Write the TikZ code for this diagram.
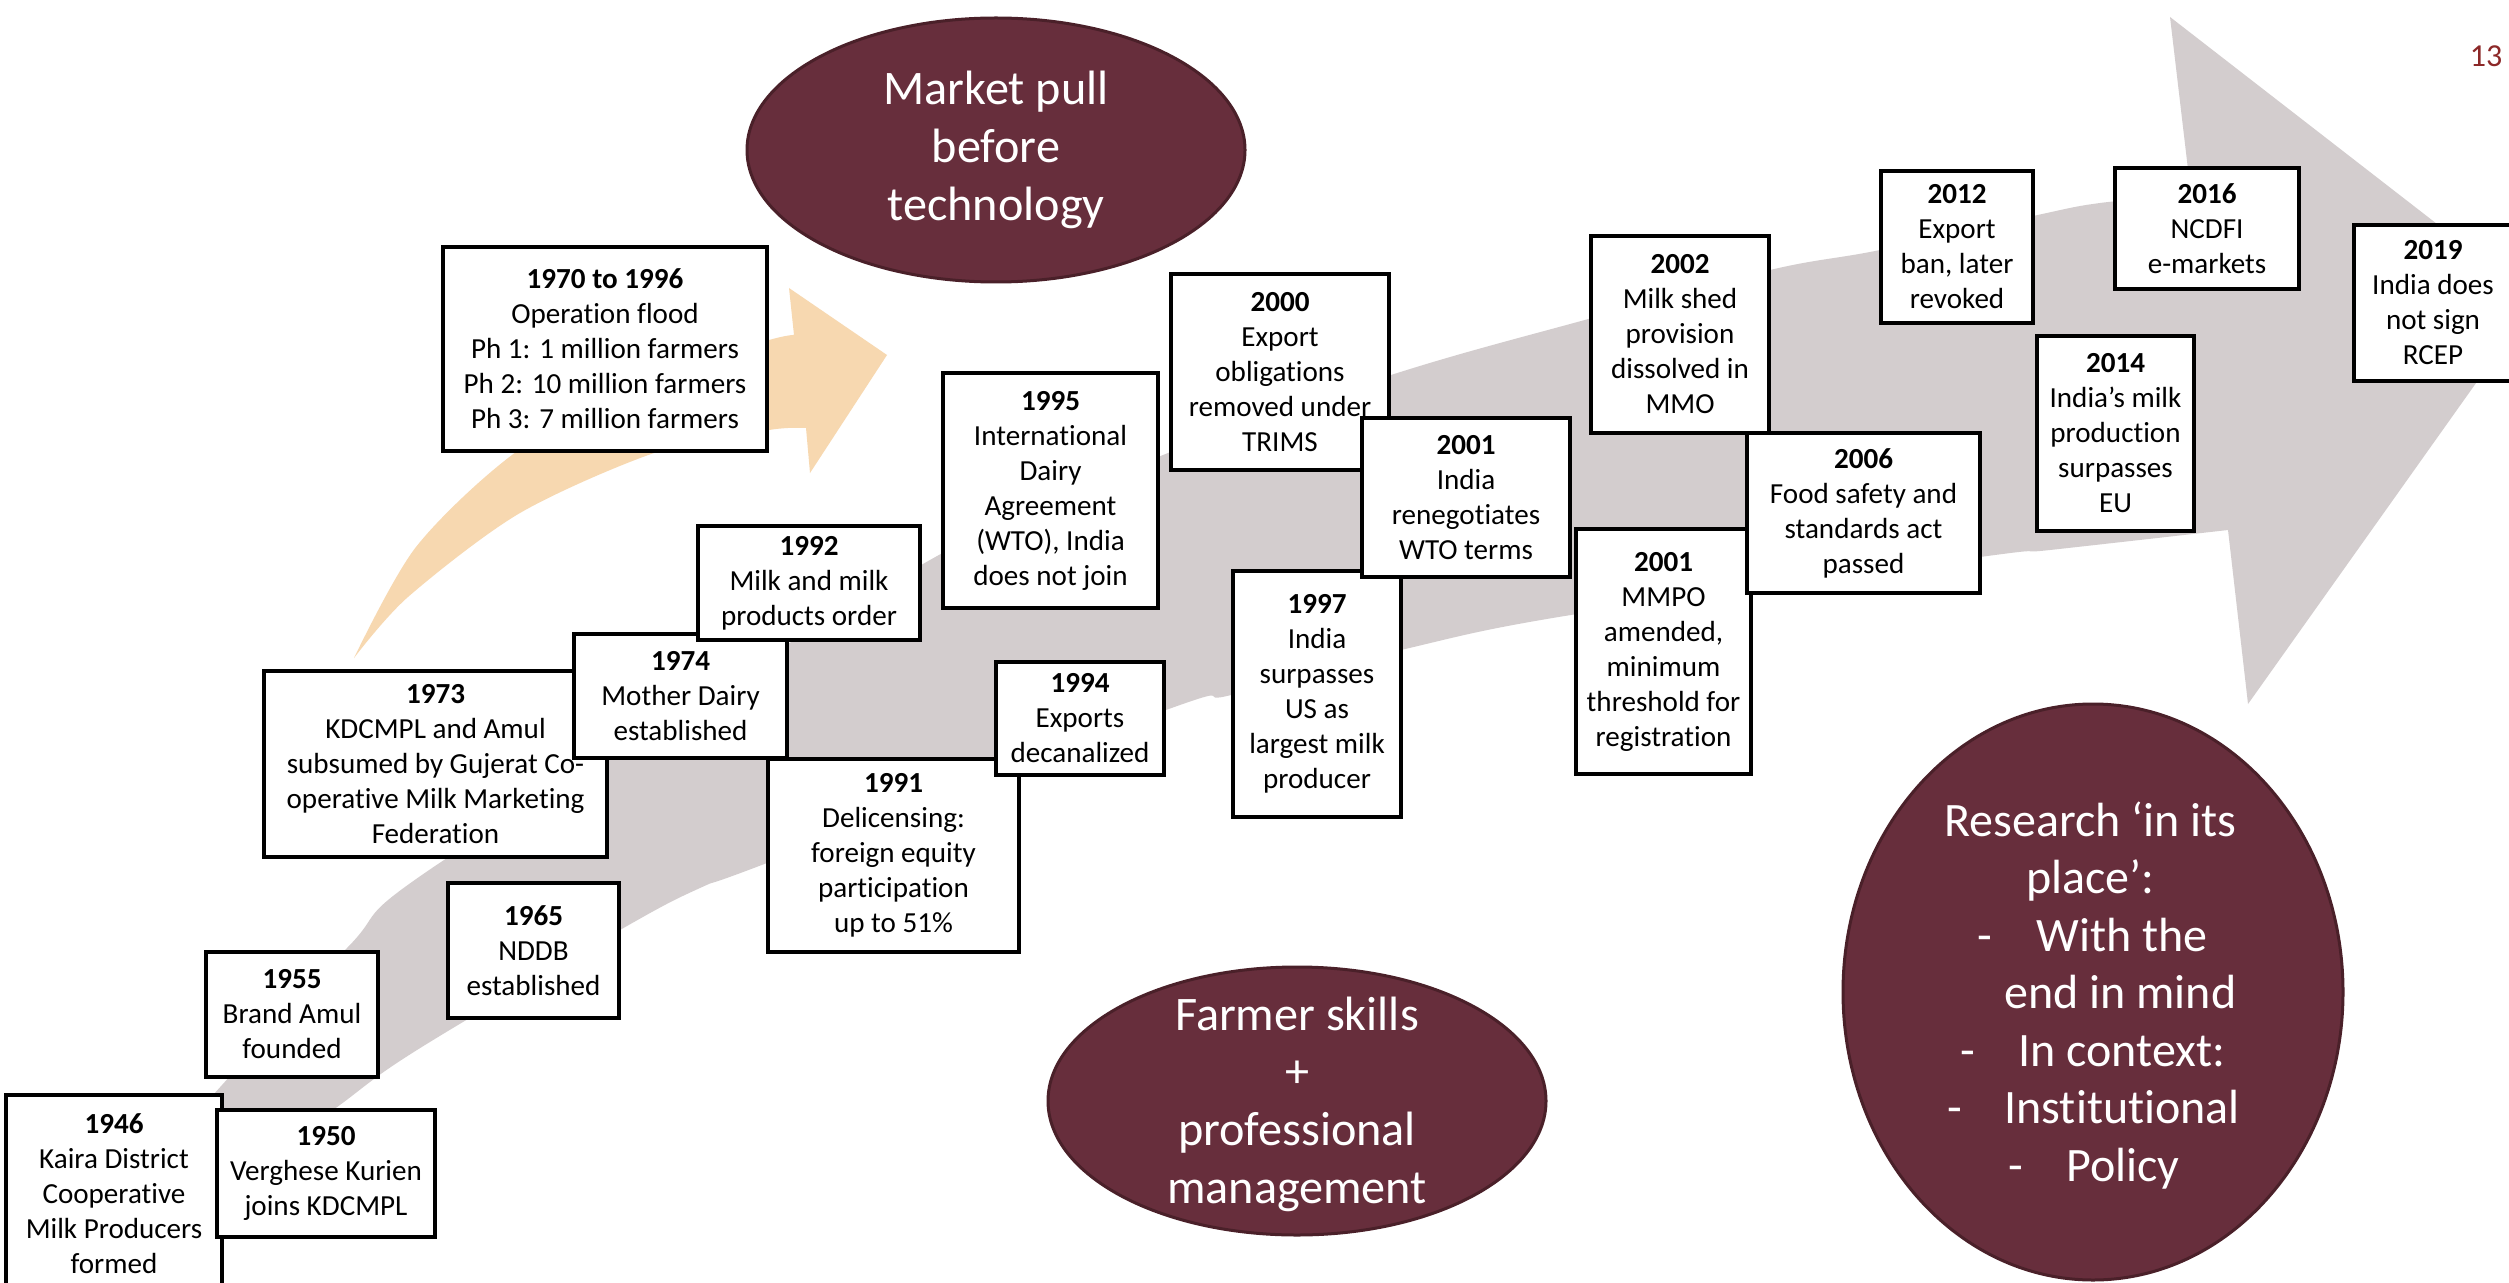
\documentclass[tikz,border=0pt]{standalone}
\usepackage{fontspec}
\setmainfont{Carlito}[Ligatures=NoCommon]
\usetikzlibrary{shapes.geometric}

\definecolor{bandgray}{RGB}{211,205,206}
\definecolor{peach}{RGB}{247,216,176}
\definecolor{maroon}{RGB}{103,46,60}
\definecolor{maroonline}{RGB}{74,32,41}
\definecolor{pagered}{RGB}{140,40,40}

\tikzset{
  evbox/.style={draw=black, line width=1.8pt, fill=white, rectangle, inner sep=0pt,
    align=center, font=\fontsize{14.55pt}{17.5pt}\selectfont},
  bubble/.style={ellipse, draw=maroonline, line width=1.5pt, fill=maroon, inner sep=0pt},
  bubbletext/.style={text=white, align=center, inner sep=0pt,
    font=\fontsize{24.1pt}{28.8pt}\selectfont},
  rline/.style={text=white, anchor=base west, inner sep=0pt,
    font=\fontsize{24pt}{28.8pt}\selectfont},
}

% event box from its corners: name, x1, y1, x2, y2, text
\newcommand\evt[6]{%
  \node[evbox, minimum width={0.5pt*(#4-#2)}, minimum height={0.5pt*(#5-#3)}]
    (#1) at ({(#2+#4)/2},{(#3+#5)/2}) {#6};}

\begin{document}
\begin{tikzpicture}[x=0.5pt,y=-0.5pt]
\useasboundingbox (0,0) rectangle (2509,1283);
\clip (0,0) rectangle (2509,1283);
\fill[white] (0,0) rectangle (2509,1283);

% broad timeline arrow
\fill[bandgray]
  plot[smooth, tension=0.6] coordinates {(150,1165) (213,1095) (347,948) (447,858)
     (930,560) (1158,457) (1391,375) (1592,318) (1770,270) (1880,250) (2033,216)
     (2100,203) (2191,195)}
  -- (2170,17) -- (2535,300) -- (2248,704) -- (2228,530)
  -- plot[smooth, tension=0.6] coordinates {(2228,530) (2050,550) (1980,557)
     (1577,614) (1401,650) (1231,695) (1166,710) (767,863) (700,888) (620,930)
     (417,1050) (333,1110) (222,1190) (170,1240)}
  -- cycle;

% curved orange arrow
\fill[peach]
  plot[smooth] coordinates {(354,658) (416,547) (516,452) (650,375) (769,340) (794,335)}
  -- (789,288) -- (887,355) -- (810,473) -- (806,428)
  -- plot[smooth] coordinates {(806,428) (769,430) (657,452) (520,513) (408,597) (354,658)}
  -- cycle;

% theme bubbles
\node[bubble, minimum width=249pt, minimum height=132pt] (market) at (996,150) {};
\node[bubbletext] (markettxt) at (market.center) {Market pull\\before\\technology};

\node[bubble, minimum width=249pt, minimum height=134pt] (farmer) at (1297,1101) {};
\node[bubbletext] (farmertxt) at (1297,1104) {Farmer skills\\+\\professional\\management};

\node[bubble, minimum width=250pt, minimum height=288pt] (research) at (2093,992) {};
\node[rline] (r1) at (1944,836) {Research ‘in its};
\node[rline] (r2) at (2026,893.5) {place’:};
\node[rline] (d1) at (1977,951) {-};
\node[rline] (r3) at (2036,951) {With the};
\node[rline] (r4) at (2004,1008.5) {end in mind};
\node[rline] (d2) at (1960,1066) {-};
\node[rline] (r5) at (2018,1066) {In context:};
\node[rline] (d3) at (1947,1123.5) {-};
\node[rline] (r6) at (2004,1123.5) {Institutional};
\node[rline] (d4) at (2008,1181) {-};
\node[rline] (r7) at (2066,1181) {Policy};

% timeline events
\evt{e1946}{6}{1095}{222}{1293}{\textbf{1946}\\Kaira District\\Cooperative\\Milk Producers\\formed}
\evt{e1950}{217}{1110}{435}{1237}{\textbf{1950}\\Verghese Kurien\\joins KDCMPL}
\evt{e1955}{206}{952}{378}{1077}{\textbf{1955}\\Brand Amul\\founded}
\evt{e1965}{448}{883}{619}{1018}{\textbf{1965}\\NDDB\\established}
\evt{e1973}{264}{671}{607}{857}{\textbf{1973}\\KDCMPL and Amul\\subsumed by Gujerat Co-\\operative Milk Marketing\\Federation}
\evt{e1974}{574}{634}{787}{758}{\textbf{1974}\\Mother Dairy\\established}
\evt{e1992}{698}{526}{920}{640}{\textbf{1992}\\Milk and milk\\products order}
\evt{e1970}{443}{247}{767}{451}{\textbf{1970 to 1996}\\Operation flood\\Ph 1: 1 million farmers\\Ph 2: 10 million farmers\\Ph 3: 7 million farmers}
\evt{e1991}{768}{759}{1019}{952}{\textbf{1991}\\Delicensing:\\foreign equity\\participation\\up to 51\%}
\evt{e1994}{996}{662}{1164}{775}{\textbf{1994}\\Exports\\decanalized}
\evt{e1995}{943}{373}{1158}{608}{\textbf{1995}\\International\\Dairy\\Agreement\\(WTO), India\\does not join}
\evt{e2000}{1171}{274}{1389}{470}{\textbf{2000}\\Export\\obligations\\removed under\\TRIMS}
\evt{e1997}{1233}{571}{1401}{817}{\textbf{1997}\\India\\surpasses\\US as\\largest milk\\producer}
\evt{e2001a}{1362}{418}{1570}{577}{\textbf{2001}\\India\\renegotiates\\WTO terms}
\evt{e2002}{1591}{236}{1769}{433}{\textbf{2002}\\Milk shed\\provision\\dissolved in\\MMO}
\evt{e2001b}{1576}{529}{1751}{774}{\textbf{2001}\\MMPO\\amended,\\minimum\\threshold for\\registration}
\evt{e2006}{1747}{433}{1980}{593}{\textbf{2006}\\Food safety and\\standards act\\passed}
\evt{e2012}{1881}{171}{2033}{323}{\textbf{2012}\\Export\\ban, later\\revoked}
\evt{e2014}{2037}{336}{2194}{531}{\textbf{2014}\\India’s milk\\production\\surpasses\\EU}
\evt{e2016}{2115}{168}{2299}{289}{\textbf{2016}\\NCDFI\\e-markets}
\evt{e2019}{2354}{225}{2512}{381}{\textbf{2019}\\India does\\not sign\\RCEP}

% slide number
\node[text=pagered, inner sep=0pt, font=\fontsize{16pt}{19pt}\selectfont] (pagenum) at (2486,56) {13};
\end{tikzpicture}
\end{document}
